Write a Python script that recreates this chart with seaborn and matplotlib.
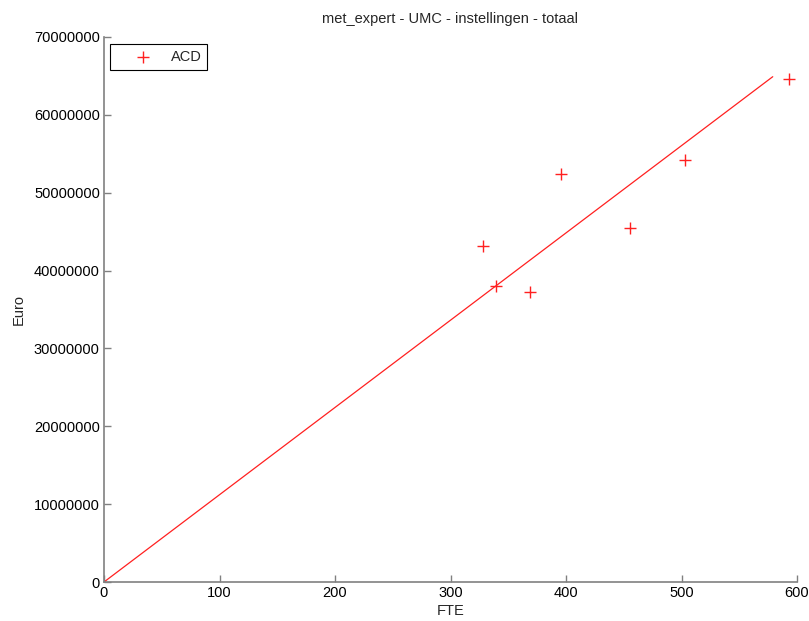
import matplotlib
matplotlib.use("Agg")
import matplotlib.pyplot as plt
import seaborn as sns
import pandas as pd

fte = [328.5, 339.4, 368.8, 395.9, 455.6, 503.0, 593.3]
euro = [43.1e6, 38.0e6, 37.2e6, 52.4e6, 45.5e6, 54.2e6, 64.6e6]
fit_x = [0, 579]
fit_y = [0, 64.9e6]
xticks = [0, 100, 200, 300, 400, 500, 600]
yticks = [0, 10000000, 20000000, 30000000, 40000000, 50000000, 60000000, 70000000]

sns.set_style("white", {"xtick.bottom": True, "ytick.left": True,
                        "xtick.direction": "in", "ytick.direction": "in"})
plt.rcParams['font.family'] = ['Liberation Sans', 'DejaVu Sans']
plt.rcParams['font.size'] = 10.5
plt.rcParams['xtick.direction'] = 'in'
plt.rcParams['ytick.direction'] = 'in'

df = pd.DataFrame({"FTE": fte, "Euro": euro})
fit = pd.DataFrame({"FTE": fit_x, "Euro": fit_y})

fig = plt.figure(figsize=(8.09, 6.21), dpi=100)
ax = fig.add_axes([104/809, 1-582/621, (797-104)/809, (582-37)/621])

sns.lineplot(data=fit, x="FTE", y="Euro", ax=ax, color="#ff2020", linewidth=0.9, legend=False)
sns.scatterplot(data=df, x="FTE", y="Euro", ax=ax, marker="+", color="#ff2020",
                s=70, linewidth=1.0, label="ACD", zorder=3)

ax.set_xlim(0, 600)
ax.set_ylim(0, 70000000)
ax.set_xticks(xticks)
ax.set_yticks(yticks)
ax.set_xticklabels([str(v) for v in xticks])
ax.set_yticklabels([str(v) for v in yticks])
ax.tick_params(bottom=True, left=True, direction="in", length=5, color="#808080", width=1,
               labelsize=10.5, labelcolor="black", pad=3)
for s in ["top", "right"]:
    ax.spines[s].set_visible(False)
for s in ["left", "bottom"]:
    ax.spines[s].set_color("#808080")
    ax.spines[s].set_linewidth(1.2)
ax.set_xlabel("FTE", fontsize=10.5, labelpad=3)
ax.set_ylabel("Euro", fontsize=10.5, labelpad=6)
ax.set_title("met_expert - UMC - instellingen - totaal", fontsize=10.5, pad=10)

leg = ax.legend(loc="upper left", bbox_to_anchor=(0.0087, 0.987), borderaxespad=0,
                frameon=True, fancybox=False, edgecolor="black", framealpha=1,
                borderpad=0.4, handletextpad=0.05, handlelength=3.7, fontsize=10.5)
leg.get_frame().set_linewidth(0.8)

fig.savefig("out.png", dpi=100)
